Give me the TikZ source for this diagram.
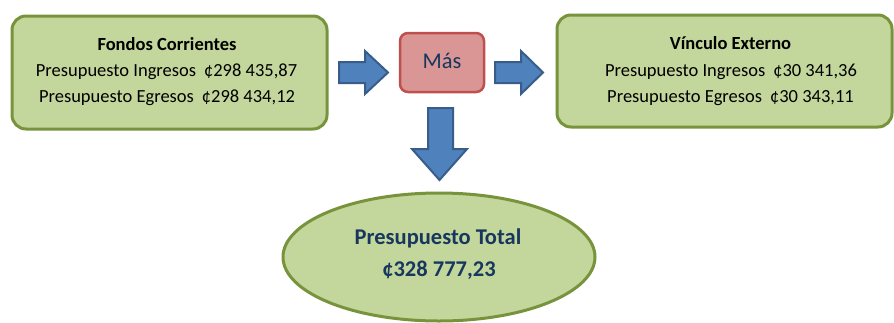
\documentclass[tikz,border=0pt]{standalone}
\usepackage{fontspec}
\setmainfont{Carlito}
\definecolor{boxgreen}{HTML}{C3D69B}
\definecolor{edgegreen}{HTML}{77933C}
\definecolor{boxred}{HTML}{D99694}
\definecolor{edgered}{HTML}{C0504D}
\definecolor{arrowblue}{HTML}{4F81BD}
\definecolor{arrowedge}{HTML}{385D8A}
\definecolor{navy}{HTML}{17375E}
\begin{document}
\begin{tikzpicture}[x=1pt,y=-1pt,
  greenbox/.style={draw=edgegreen,fill=boxgreen,line width=3pt,rounded corners=14pt},
  redbox/.style={draw=edgered,fill=boxred,line width=2.5pt,rounded corners=8pt},
  blockarrow/.style={draw=arrowedge,fill=arrowblue,line width=2pt,line join=miter},
  bodytext/.style={font=\fontsize{18.5}{22}\selectfont,text=black},
  titletext/.style={font=\fontsize{18.5}{22}\selectfont\bfseries,text=black}]
\useasboundingbox (0,0) rectangle (894,322);
% left box
\draw[greenbox] (12,16) rectangle (327,129);
\node[titletext] (fctitle) at (167,44) {Fondos Corrientes};
\node[bodytext] (fcin) at (166.5,72) {Presupuesto Ingresos\hspace{8pt}¢298 435,87};
\node[bodytext] (fceg) at (167,98) {Presupuesto Egresos\hspace{8pt}¢298 434,12};
% Mas box
\draw[redbox] (400,33) rectangle (484,92);
\node[text=navy,font=\fontsize{22.5}{26}\selectfont] (mas) at (442,61) {Más};
% right box
\draw[greenbox] (557,15) rectangle (892,127);
\node[titletext] (vetitle) at (730.5,43) {Vínculo Externo};
\node[bodytext] (vein) at (731,72) {Presupuesto Ingresos\hspace{8pt}¢30 341,36};
\node[bodytext] (veeg) at (730.5,98) {Presupuesto Egresos\hspace{8pt}¢30 343,11};
% block arrows
\draw[blockarrow] (339,62) -- (365,62) -- (365,51) -- (388,72.5) -- (365,94) -- (365,83) -- (339,83) -- cycle;
\draw[blockarrow] (495,62) -- (521,62) -- (521,51) -- (543,72.5) -- (521,94) -- (521,83) -- (495,83) -- cycle;
\draw[blockarrow] (428,108) -- (453,108) -- (453,149) -- (467,149) -- (439.5,180) -- (412,149) -- (428,149) -- cycle;
% ellipse
\draw[draw=edgegreen,fill=boxgreen,line width=3pt] (439,257) ellipse [x radius=156pt, y radius=64pt];
\node[text=navy,font=\fontsize{22.5}{26}\selectfont\bfseries] (total) at (438,238) {Presupuesto Total};
\node[text=navy,font=\fontsize{22.5}{26}\selectfont\bfseries] (amount) at (439,270) {¢328 777,23};
\end{tikzpicture}
\end{document}
